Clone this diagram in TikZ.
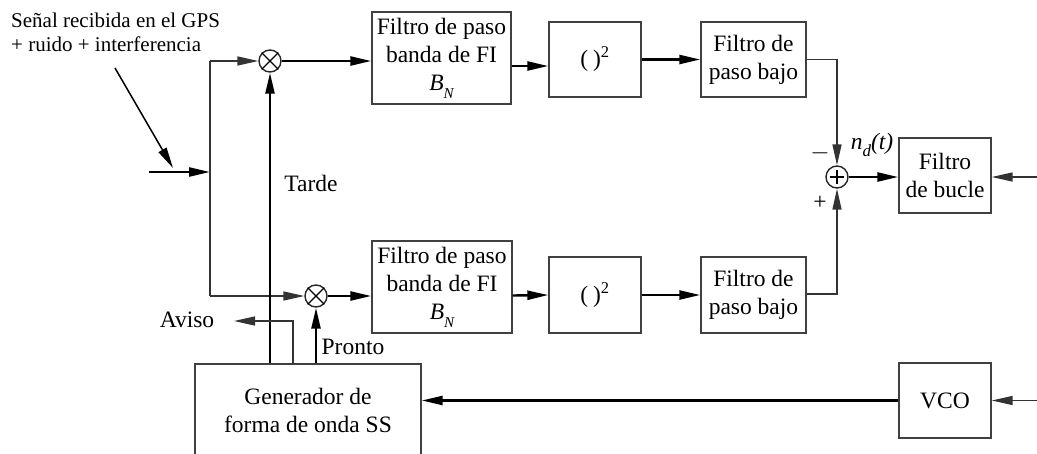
\documentclass[tikz,border=0pt]{standalone}
\usepackage{fontspec}
\setmainfont{Liberation Serif}
\usetikzlibrary{arrows.meta}
\begin{document}
\begin{tikzpicture}[x=1pt,y=-1pt,
  every node/.style={font=\fontsize{23.5}{28}\selectfont},
  blk/.style={draw=black!75, line width=1.4pt, rectangle, align=center, inner sep=0pt},
  junc/.style={draw=black!85, line width=1.4pt, circle, minimum size=22pt, inner sep=0pt},
  wire/.style={line width=2.4pt},
  thin wire/.style={line width=1.5pt, draw=black!80},
  tip/.style={-{Triangle[length=21pt,width=9pt]}},
  arr/.style={wire, tip},
  thin arr/.style={thin wire, tip},
  lbl/.style={inner sep=0pt}
]
\useasboundingbox (0,0) rectangle (1037,453);
\clip (0,0) rectangle (1037,453);

% input label
\node[lbl, anchor=west, align=left, font=\fontsize{21}{24}\selectfont] (sig) at (11,32)
  {Señal recibida en el GPS\\+ ruido + interferencia};

% mixers and summer
\node[junc] (mixT) at (270,61) {};
\node[junc] (mixB) at (316,296) {};
\node[junc] (sum) at (837,177) {};
\draw[line width=1.2pt] (mixT.north west) -- (mixT.south east) (mixT.north east) -- (mixT.south west);
\draw[line width=1.2pt] (mixB.north west) -- (mixB.south east) (mixB.north east) -- (mixB.south west);
\draw[line width=1.2pt] ([xshift=-7pt]sum.center) -- ([xshift=7pt]sum.center)
                        ([yshift=-7pt]sum.center) -- ([yshift=7pt]sum.center);

% blocks, upper branch
\node[blk, minimum width=139pt, minimum height=92pt] (bpfT) at (441.5,58)
  {Filtro de paso\\banda de FI\\{\itshape B\raisebox{-0.35em}{\fontsize{15}{15}\selectfont N}}};
\node[blk, minimum width=92pt, minimum height=75pt] (sqT) at (595,59.5) {(\hspace{5pt})\textsuperscript{2}};
\node[blk, minimum width=105pt, minimum height=75pt] (lpfT) at (753.5,59.5) {Filtro de\\paso bajo};

% blocks, lower branch
\node[blk, minimum width=140pt, minimum height=92pt] (bpfB) at (442,287)
  {Filtro de paso\\banda de FI\\{\itshape B\raisebox{-0.35em}{\fontsize{15}{15}\selectfont N}}};
\node[blk, minimum width=92pt, minimum height=76pt] (sqB) at (595,295) {(\hspace{5pt})\textsuperscript{2}};
\node[blk, minimum width=105pt, minimum height=76pt] (lpfB) at (753.5,295) {Filtro de\\paso bajo};

% loop blocks
\node[blk, minimum width=92pt, minimum height=75pt] (loop) at (945,175.5) {Filtro\\de bucle};
\node[blk, minimum width=92pt, minimum height=75pt] (vco) at (945,400.5) {VCO};
\node[blk, minimum width=226pt, minimum height=92pt] (gen) at (308,410) {Generador de\\forma de onda SS};

% input and split
\coordinate (in) at (149,172);
\coordinate (split) at (210,172);
\coordinate (arrS) at (115,68);
\coordinate (arrE) at (173,168);
\draw[arr] (in) -- (split);
\draw[line width=1.5pt, tip] (arrS) -- (arrE);
\draw[thin wire] (mixT -| split) -- (mixB -| split);
\draw[thin arr] (mixT -| split) -- (mixT.west);
\draw[thin arr] (mixB -| split) -- (mixB.west);

% upper chain
\draw[arr] (mixT.east) -- (mixT -| bpfT.west);
\draw[arr] ([yshift=-8pt]bpfT.east) -- ([yshift=-6.5pt]sqT.west);
\draw[arr] (sqT.east) -- (lpfT.west);
\draw[thin arr] (lpfT.east) -| (sum.north);

% lower chain
\draw[arr] (mixB.east) -- (mixB -| bpfB.west);
\draw[arr] ([yshift=-8.5pt]bpfB.east) -- (sqB.west);
\draw[arr] (sqB.east) -- (lpfB.west);
\draw[thin arr] ([yshift=1pt]lpfB.east) -| (sum.south);

% summer to loop filter, loop inputs
\draw[arr] (sum.east) -- (sum -| loop.west);
\coordinate (loopIn) at (1037,177);
\draw[thin arr] (loopIn) -- (loopIn -| loop.east);
\coordinate (vcoIn) at (1037,400.5);
\draw[thin arr] (vcoIn) -- (vco.east);
\draw[arr] (vco.west) -- (vco.west -| gen.east);

% generator outputs
\draw[arr] (gen.north -| mixT) -- (mixT.south);
\draw[arr] (gen.north -| mixB) -- (mixB.south);
\coordinate (avisoTap) at (293,364);
\coordinate (avisoEnd) at (234,321);
\draw[thin arr] (avisoTap) |- (avisoEnd);

% labels
\node[lbl] (tarde) at (311,183) {Tarde};
\node[lbl] (pronto) at (353,347) {Pronto};
\node[lbl] (aviso) at (187,320) {Aviso};
\node[lbl] (minus) at (820,153) {$-$};
\node[lbl] (plus) at (820,203) {+};
\node[lbl] (nd) at (872,145) {{\itshape n\raisebox{-0.3em}{\fontsize{17}{17}\selectfont d}(t)}};
\end{tikzpicture}
\end{document}
